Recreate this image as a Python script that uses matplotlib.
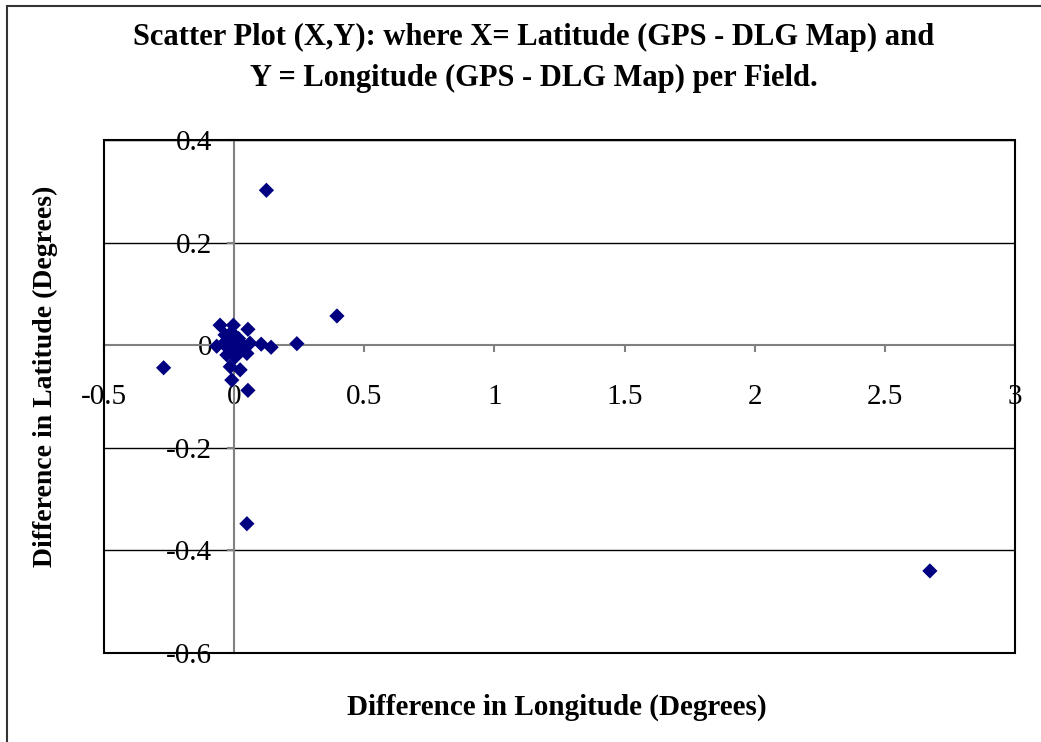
import matplotlib.pyplot as plt
from matplotlib.patches import Rectangle

# Differences GPS - DLG map, per field (degrees)
dif_longitude = [-0.271, 0.124, 0.395, 0.241, 0.142, 0.104, 0.061, 0.049, 2.673,
                 -0.054, -0.003, 0.053, -0.035, -0.067, 0.030, 0.049, -0.015, 0.023,
                 -0.009, 0.053, -0.028, 0.004, -0.003, 0.010, -0.041, 0.017, -0.020,
                 0.000, -0.010, 0.025]
dif_latitude = [-0.044, 0.302, 0.057, 0.003, -0.004, 0.002, 0.004, -0.348, -0.440,
                0.039, 0.039, 0.031, 0.020, -0.002, -0.009, -0.016, -0.042, -0.048,
                -0.068, -0.088, -0.019, -0.023, 0.016, -0.003, 0.003, 0.013, 0.005,
                -0.010, 0.025, 0.005]

x_ticks = [-0.5, 0, 0.5, 1, 1.5, 2, 2.5, 3]
x_tick_labels = ['-0.5', '0', '0.5', '1', '1.5', '2', '2.5', '3']
y_ticks = [-0.6, -0.4, -0.2, 0, 0.2, 0.4]
y_tick_labels = ['-0.6', '-0.4', '-0.2', '0', '0.2', '0.4']

plt.rcParams['font.family'] = ['Liberation Serif', 'DejaVu Serif']

fig = plt.figure(figsize=(10.41, 7.42), dpi=100)
ax = fig.add_axes([104/1041, 1 - 653/742, (1015 - 104)/1041, (653 - 140)/742])

ax.scatter(dif_longitude, dif_latitude, marker='D', s=60, color='#000080',
           edgecolors='none', zorder=3)

ax.set_xlim(-0.5, 3)
ax.set_ylim(-0.6, 0.4)

# axes crossing at zero, Excel style
ax.spines['left'].set_position(('data', 0))
ax.spines['bottom'].set_position(('data', 0))
for s in ['left', 'bottom']:
    ax.spines[s].set_color('#808080')
    ax.spines[s].set_linewidth(1.5)
for s in ['top', 'right']:
    ax.spines[s].set_visible(False)

ax.set_xticks(x_ticks)
ax.set_xticklabels(x_tick_labels)
ax.set_yticks(y_ticks)
ax.set_yticklabels(y_tick_labels)
ax.tick_params(axis='x', direction='out', length=5, width=1.5, color='#808080',
               pad=23, labelsize=21)
ax.tick_params(axis='y', direction='out', length=5, width=1.5, color='#808080',
               pad=11, labelsize=21)

for v in y_ticks:
    if v != 0:
        ax.axhline(v, color='black', lw=1, zorder=1)

# plot area frame
ax.add_patch(Rectangle((0, 0), 1, 1, transform=ax.transAxes, fill=False,
                       edgecolor='black', lw=1.5, zorder=4, clip_on=False))

# outer chart border
fig.patches.append(Rectangle((7/1041, -0.1), 2, 1 - 6/742 + 0.1,
                             transform=fig.transFigure, fill=False,
                             edgecolor='#333333', lw=1.5))

fig.text(534/1041, 1 - 37/742, 'Scatter Plot (X,Y): where X= Latitude (GPS - DLG Map) and',
         ha='center', va='center', fontsize=22, fontweight='bold')
fig.text(534/1041, 1 - 78/742, 'Y = Longitude (GPS - DLG Map) per Field.',
         ha='center', va='center', fontsize=22, fontweight='bold')
fig.text(557/1041, 1 - 707/742, 'Difference in Longitude (Degrees)',
         ha='center', va='center', fontsize=21, fontweight='bold')
fig.text(45/1041, 1 - 376/742, 'Difference in Latitude (Degrees)',
         ha='center', va='center', rotation=90, fontsize=20, fontweight='bold')

plt.savefig('out.png', dpi=100)
